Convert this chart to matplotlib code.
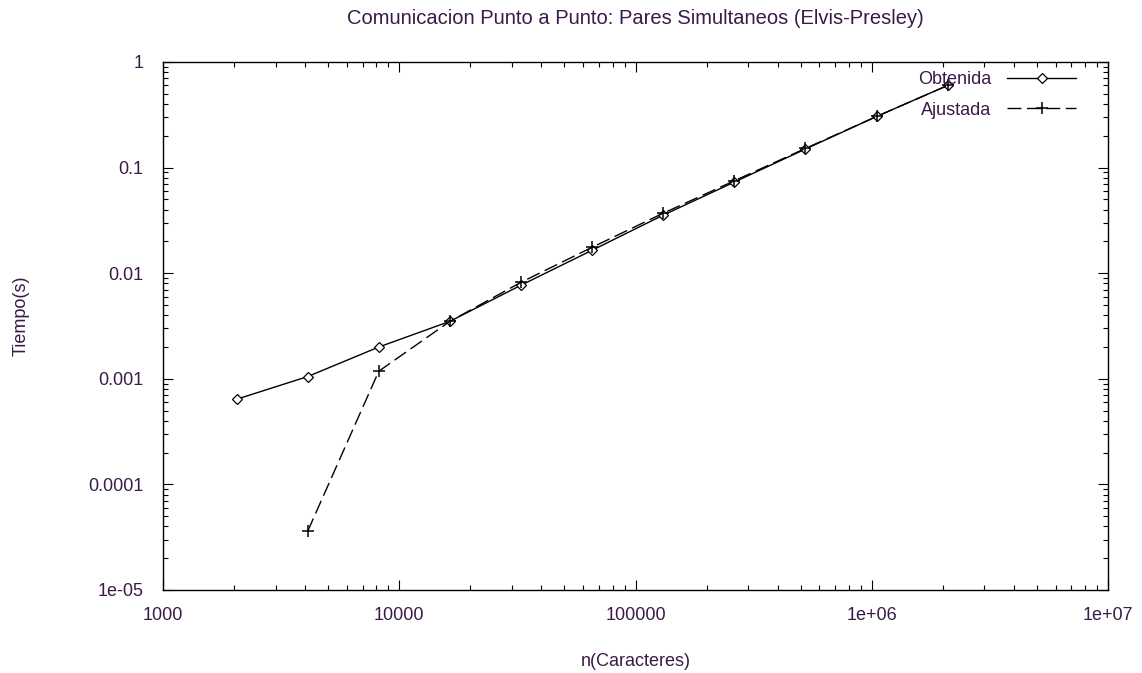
import matplotlib
matplotlib.use("Agg")
import matplotlib.pyplot as plt
from matplotlib.ticker import LogLocator, FixedLocator, NullFormatter

plt.rcParams['font.family'] = ['Liberation Sans', 'DejaVu Sans']

# Data
n_obtenida = [2048, 4096, 8192, 16384, 32768, 65536, 131072, 262144, 524288, 1048576, 2097152]
t_obtenida = [0.00064, 0.00105, 0.0020, 0.0035, 0.0077, 0.0165, 0.0355, 0.073, 0.150, 0.305, 0.60]
n_ajustada = [4096, 8192, 16384, 32768, 65536, 131072, 262144, 524288, 1048576, 2097152]
t_ajustada = [3.6e-05, 0.00118, 0.0035, 0.0082, 0.0176, 0.0370, 0.075, 0.152, 0.305, 0.60]

x_ticks = [1000, 10000, 100000, 1000000, 10000000]
x_ticklabels = ['1000', '10000', '100000', '1e+06', '1e+07']
y_ticks = [1e-05, 1e-04, 1e-03, 1e-02, 1e-01, 1]
y_ticklabels = ['1e-05', '0.0001', '0.001', '0.01', '0.1', '1']

title = 'Comunicacion Punto a Punto: Pares Simultaneos (Elvis-Presley)'
xlabel = 'n(Caracteres)'
ylabel = 'Tiempo(s)'

txt = '#3a1a48'
fs = 13

fig = plt.figure(figsize=(11.42, 6.73), dpi=100)
W, H = 1142, 673
L, R, T, B = 163, 1108, 62, 590
ax = fig.add_axes([L / W, 1 - B / H, (R - L) / W, (B - T) / H])

ax.plot(n_obtenida, t_obtenida, color='black', lw=1.0, marker='D', markersize=5.5,
        markerfacecolor='white', markeredgecolor='black', markeredgewidth=0.9,
        label='Obtenida')
ax.plot(n_ajustada, t_ajustada, color='black', lw=1.0, dashes=(10, 4), marker='+',
        markersize=9, markeredgewidth=1.1, label='Ajustada')

ax.set_xscale('log')
ax.set_yscale('log')
ax.set_xlim(1000, 1e7)
ax.set_ylim(1e-5, 1)

ax.xaxis.set_major_locator(FixedLocator(x_ticks))
ax.set_xticklabels(x_ticklabels)
ax.yaxis.set_major_locator(FixedLocator(y_ticks))
ax.set_yticklabels(y_ticklabels)
ax.xaxis.set_minor_locator(LogLocator(base=10, subs=range(2, 10), numticks=20))
ax.yaxis.set_minor_locator(LogLocator(base=10, subs=range(2, 10), numticks=20))
ax.xaxis.set_minor_formatter(NullFormatter())
ax.yaxis.set_minor_formatter(NullFormatter())

ax.tick_params(which='both', direction='in', top=True, right=True, color='black', width=0.8)
ax.tick_params(which='major', length=7, labelsize=fs, labelcolor=txt)
ax.tick_params(which='minor', length=3.5)
ax.tick_params(axis='y', which='major', pad=14)
ax.tick_params(axis='x', which='major', pad=12)

for s in ax.spines.values():
    s.set_linewidth(1.0)
    s.set_color('black')

fig.text((L + R) / 2 / W, 1 - 19 / H, title, ha='center', va='center', fontsize=14.5, color=txt)
fig.text((L + R) / 2 / W, 1 - 661 / H, xlabel, ha='center', va='center', fontsize=fs, color=txt)
fig.text(21 / W, 1 - 316 / H, ylabel, ha='center', va='center', rotation=90, fontsize=fs, color=txt)

leg = ax.legend(loc='upper right', bbox_to_anchor=((1076 - L) / (R - L), (B - 71) / (B - T)),
                frameon=False, markerfirst=False, handlelength=3.8, labelspacing=0.75,
                borderaxespad=0, borderpad=0, handletextpad=0.9, fontsize=fs)
for t in leg.get_texts():
    t.set_color(txt)

fig.savefig('out.png', dpi=100)
